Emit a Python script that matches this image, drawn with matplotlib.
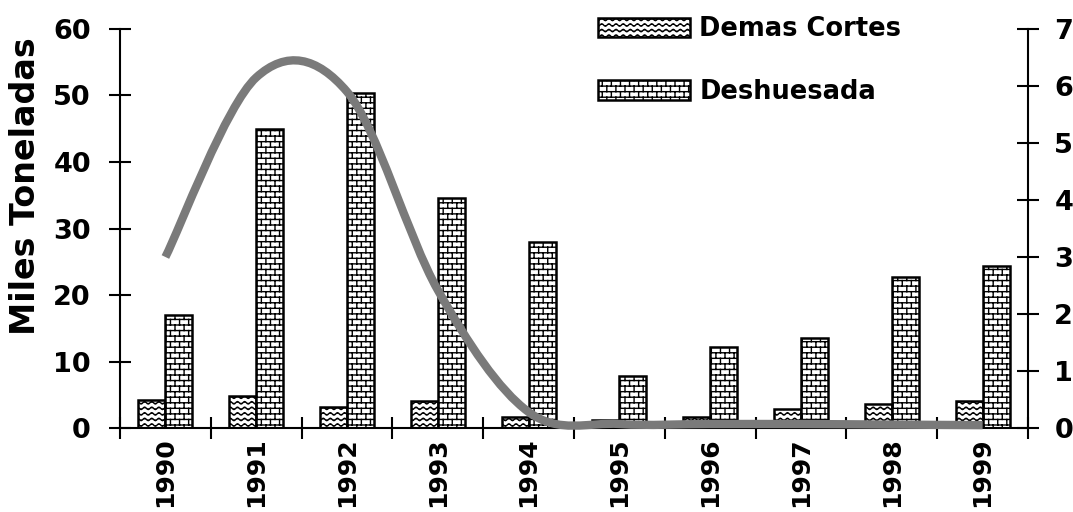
import numpy as np
import matplotlib
matplotlib.use("Agg")
import matplotlib.pyplot as plt
import matplotlib.hatch as mhatch
from matplotlib.path import Path
from matplotlib.patches import PathPatch

# ---------------- data ----------------
years = ["1990", "1991", "1992", "1993", "1994", "1995", "1996", "1997", "1998", "1999"]
demas_cortes = [4.2, 4.8, 3.1, 4.1, 1.6, 1.2, 1.6, 2.9, 3.6, 4.1]
deshuesada = [17.0, 44.9, 50.4, 34.6, 28.0, 7.8, 12.2, 13.6, 22.7, 24.3]
line_values = [3.0, 6.15, 5.9, 2.42, 0.28, 0.07, 0.07, 0.07, 0.06, 0.05]
series_labels = ["Demas Cortes", "Deshuesada"]
left_ticks = [0, 10, 20, 30, 40, 50, 60]
right_ticks = [0, 1, 2, 3, 4, 5, 6, 7]

# ---------------- custom hatches (brick / wave) ----------------
class BrickHatch(mhatch.HatchPatternBase):
    rows, cols = 18, 11

    def __init__(self, hatch, density):
        if "b" in hatch:
            r, c = self.rows, self.cols
            self.num_vertices = r * 2 + (r - 1) * c * 2 + 2 * c * 2
        else:
            self.num_vertices = 0

    def set_vertices_and_codes(self, vertices, codes):
        r, c = self.rows, self.cols
        ys = (np.arange(r) + 0.5) / r
        k = 0
        for yv in ys:
            vertices[k] = (0, yv); vertices[k + 1] = (1, yv)
            codes[k] = Path.MOVETO; codes[k + 1] = Path.LINETO
            k += 2
        for i in range(r):
            off = 0.5 * (i % 2)
            xs = (np.arange(c) + 0.25 + off) / c
            if i < r - 1:
                segs = [(ys[i], ys[i + 1])]
            else:
                segs = [(ys[i], 1.0), (0.0, ys[0])]
            for (y0, y1) in segs:
                for xv in xs:
                    vertices[k] = (xv, y0); vertices[k + 1] = (xv, y1)
                    codes[k] = Path.MOVETO; codes[k + 1] = Path.LINETO
                    k += 2


class WaveHatch(mhatch.HatchPatternBase):
    rows, waves, samples = 18, 14, 113

    def __init__(self, hatch, density):
        self.num_vertices = self.rows * self.samples if "w" in hatch else 0

    def set_vertices_and_codes(self, vertices, codes):
        xs = np.linspace(0, 1, self.samples)
        amp = 0.22 / self.rows
        k = 0
        for i in range(self.rows):
            yc = (i + 0.5) / self.rows
            vertices[k:k + self.samples, 0] = xs
            vertices[k:k + self.samples, 1] = yc + amp * np.sin(2 * np.pi * self.waves * xs)
            codes[k] = Path.MOVETO
            codes[k + 1:k + self.samples] = Path.LINETO
            k += self.samples


mhatch._hatch_types.append(BrickHatch)
mhatch._hatch_types.append(WaveHatch)
mhatch._validate_hatch_pattern = lambda h: None

# ---------------- style ----------------
plt.rcParams["font.family"] = ["DejaVu Sans"]
plt.rcParams["font.weight"] = "bold"
plt.rcParams["hatch.linewidth"] = 1.0
plt.rcParams["hatch.color"] = "black"

fig = plt.figure(figsize=(10.73, 5.12), dpi=100)
ax = fig.add_axes([0.11184, 0.16406, 0.84623, 0.77930])
ax2 = ax.twinx()

n = len(years)
x = np.arange(n)
w = 0.297

b1 = ax.bar(x - w / 2, demas_cortes, w, facecolor="white", edgecolor="black",
            linewidth=1.8, hatch="w", label=series_labels[0], zorder=2)
b2 = ax.bar(x + w / 2, deshuesada, w, facecolor="white", edgecolor="black",
            linewidth=1.8, hatch="b", label=series_labels[1], zorder=2)

# smooth (Catmull-Rom -> cubic Bezier) line on secondary axis
xv = x.astype(float)
yv = np.array(line_values, dtype=float)
verts = [(xv[0], yv[0])]
codes = [Path.MOVETO]
for i in range(n - 1):
    i0, i2, i3 = max(i - 1, 0), i + 1, min(i + 2, n - 1)
    p0 = np.array([xv[i0], yv[i0]]); p1 = np.array([xv[i], yv[i]])
    p2 = np.array([xv[i2], yv[i2]]); p3 = np.array([xv[i3], yv[i3]])
    c1 = p1 + (p2 - p0) / 6.0
    c2 = p2 - (p3 - p1) / 6.0
    verts += [tuple(c1), tuple(c2), tuple(p2)]
    codes += [Path.CURVE4] * 3
line_patch = PathPatch(Path(verts, codes), facecolor="none", edgecolor="#7a7a7a",
                       linewidth=6.0, capstyle="butt", joinstyle="round", clip_on=False, zorder=3)
ax2.add_patch(line_patch)

# axes limits and ticks
ax.set_xlim(-0.5, n - 0.5)
ax.set_ylim(0, 60)
ax2.set_ylim(0, 7)
ax.set_yticks(left_ticks)
ax2.set_yticks(right_ticks)

ax.set_xticks(np.arange(n + 1) - 0.5)
ax.set_xticklabels([])
ax.set_xticks(x, minor=True)
ax.set_xticklabels(years, minor=True, rotation=90, fontsize=18, fontweight="bold")
ax.tick_params(axis="x", which="major", direction="inout", length=15.8, width=1.5)
ax.tick_params(axis="x", which="minor", length=0, pad=6.5)
ax.tick_params(axis="y", direction="inout", length=15.8, width=1.5, pad=13, labelsize=19.5)
ax2.tick_params(axis="y", direction="inout", length=15.8, width=1.5, pad=11, labelsize=19.5)
for lab in ax.get_yticklabels() + ax2.get_yticklabels():
    lab.set_fontweight("bold")

for s in ["top", "right"]:
    ax.spines[s].set_visible(False)
for s in ["top", "left", "bottom"]:
    ax2.spines[s].set_visible(False)
for s in ["left", "bottom"]:
    ax.spines[s].set_linewidth(1.5)
ax2.spines["right"].set_linewidth(1.5)

ax.set_ylabel("Miles Toneladas", fontsize=24, fontweight="bold")
ax.yaxis.set_label_coords(-0.086, 0.607)

fig.legend([b1, b2], series_labels, loc="upper left", bbox_to_anchor=(0.5573, 0.968),
           frameon=False, borderpad=0, borderaxespad=0, handlelength=3.6, handleheight=0.8,
           handletextpad=0.35, labelspacing=1.42, prop={"size": 18.5, "weight": "bold"})

fig.savefig("out.png", dpi=100)
